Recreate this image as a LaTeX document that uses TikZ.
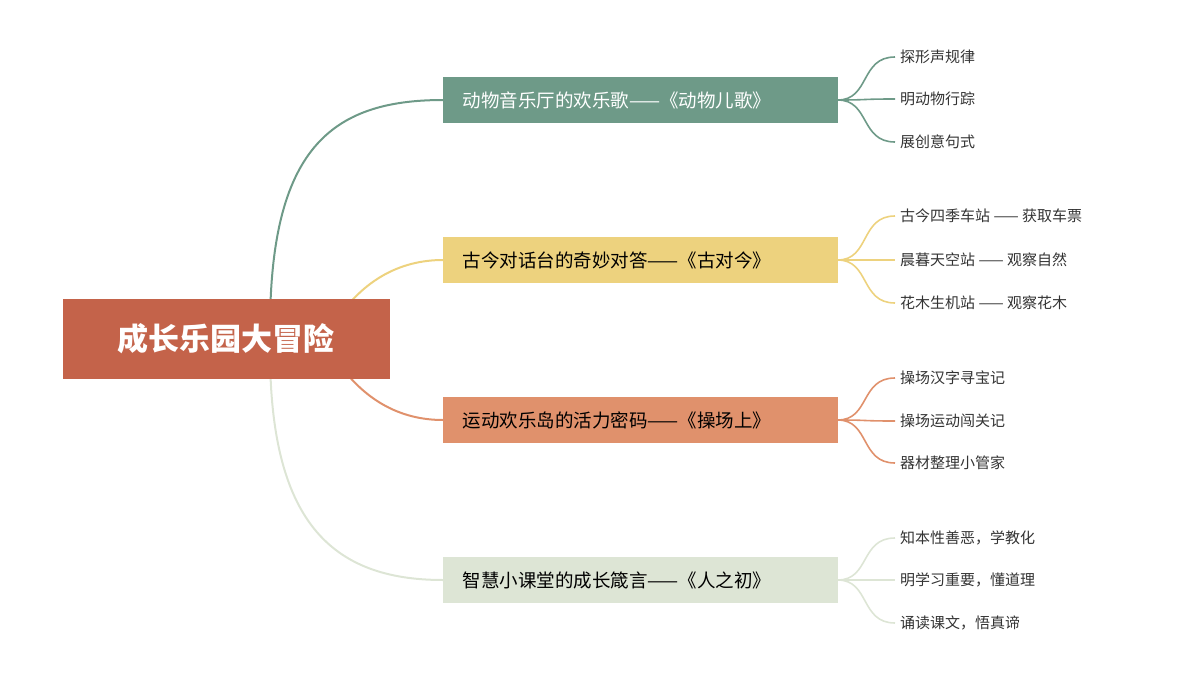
\documentclass[tikz,border=0pt]{standalone}
\usepackage{fontspec}
\setmainfont{Noto Sans CJK SC}
\begin{document}
\begin{tikzpicture}[x=1pt,y=-1pt,
 root/.style={fill=cR,minimum width=327pt,minimum height=80pt,text=white,font=\fontsize{31}{31}\selectfont\bfseries},
 br/.style={minimum width=395pt,minimum height=46pt,text width=355pt,align=left,font=\fontsize{18.5}{19}\selectfont},
 leaf/.style={anchor=west,text=black!80,font=\fontsize{15}{15}\selectfont,inner sep=0pt},
 con/.style={line width=2pt}]
\definecolor{cR}{HTML}{C4634A}
\definecolor{cG}{HTML}{6E9A88}
\definecolor{cY}{HTML}{EDD27E}
\definecolor{cO}{HTML}{E0916C}
\definecolor{cL}{HTML}{DDE5D5}
\useasboundingbox (0,0) rectangle (1200,675);
\draw[con,cG] (270,330) .. controls (270,150) and (330,100) .. (443,100);
\draw[con,cY] (330,330) .. controls (360,280) and (400,260) .. (443,260);
\draw[con,cO] (330,350) .. controls (360,400) and (400,420) .. (443,420);
\draw[con,cL] (270,350) .. controls (270,520) and (330,580) .. (443,580);
\node[root] (r) at (226,339) {成长乐园大冒险};
\foreach \i/\y/\c/\t/\tc in {1/100/cG/动物音乐厅的欢乐歌——《动物儿歌》/white,2/260/cY/古今对话台的奇妙对答——《古对今》/black,3/420/cO/运动欢乐岛的活力密码——《操场上》/black,4/580/cL/智慧小课堂的成长箴言——《人之初》/black}{
 \node[br,fill=\c,text=\tc] (b\i) at (640,\y) {\t};
}
\foreach \b/\y/\c/\t [count=\k] in {
 1/57/cG/探形声规律,1/99/cG/明动物行踪,1/142/cG/展创意句式,
 2/216/cY/古今四季车站 —— 获取车票,2/260/cY/晨暮天空站 —— 观察自然,2/303/cY/花木生机站 —— 观察花木,
 3/378/cO/操场汉字寻宝记,3/421/cO/操场运动闯关记,3/463/cO/器材整理小管家,
 4/538/cL/知本性善恶，学教化,4/580/cL/明学习重要，懂道理,4/623/cL/诵读课文，悟真谛}{
 \node[leaf] (l\k) at (900,\y) {\t};
 \draw[con,\c,line width=1.6pt] (b\b.east) .. controls (870,0 |- b\b.east) and (860,\y) .. ([xshift=-5pt]l\k.west);
}
\end{tikzpicture}
\end{document}
